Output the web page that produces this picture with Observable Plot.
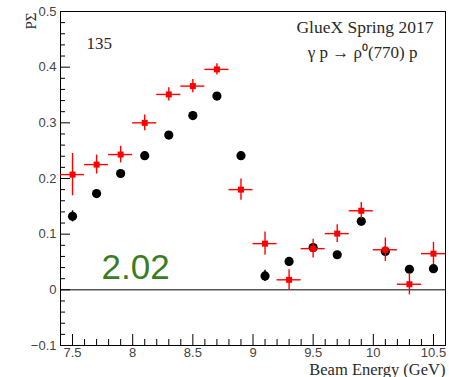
<!DOCTYPE html>
<html>
<head>
<meta charset="utf-8">
<script src="https://cdn.jsdelivr.net/npm/d3@7"></script>
<script src="https://cdn.jsdelivr.net/npm/@observablehq/plot@0.6"></script>
<style>
  body { margin: 0; background: #fff; }
  #chart svg { display: block; }
</style>
</head>
<body>
<div id="chart"></div>
<script>
// Beam energy bin centres (GeV)
const energies = [7.5, 7.7, 7.9, 8.1, 8.3, 8.5, 8.7, 8.9, 9.1, 9.3, 9.5, 9.7, 9.9, 10.1, 10.3, 10.5];
// Black series: values and statistical errors
const blackValues = [0.132, 0.173, 0.209, 0.241, 0.278, 0.313, 0.348, 0.241, 0.025, 0.051, 0.076, 0.063, 0.123, 0.069, 0.037, 0.038];
const blackErrors = [0.010, 0.004, 0.004, 0.004, 0.004, 0.004, 0.004, 0.004, 0.010, 0.006, 0.006, 0.005, 0.006, 0.009, 0.006, 0.006];
// Red series: values and statistical errors
const redValues = [0.207, 0.225, 0.243, 0.300, 0.351, 0.366, 0.396, 0.180, 0.083, 0.018, 0.074, 0.101, 0.142, 0.072, 0.010, 0.065];
const redErrors = [0.038, 0.017, 0.015, 0.014, 0.012, 0.012, 0.010, 0.019, 0.021, 0.018, 0.017, 0.016, 0.015, 0.021, 0.019, 0.020];
// Half width of each energy bin (GeV)
const binHalfWidth = [0.1, 0.1, 0.1, 0.1, 0.1, 0.1, 0.1, 0.1, 0.1, 0.1, 0.1, 0.1, 0.1, 0.1, 0.1, 0.1];

// Axis ticks
const xTickLabels = [7.5, 8, 8.5, 9, 9.5, 10, 10.5];
const xMinorTicks = [7.4, 7.6, 7.7, 7.8, 7.9, 8.1, 8.2, 8.3, 8.4, 8.6, 8.7, 8.8, 8.9, 9.1, 9.2, 9.3, 9.4, 9.6, 9.7, 9.8, 9.9, 10.1, 10.2, 10.3, 10.4, 10.6];
const yTickLabels = [-0.1, 0, 0.1, 0.2, 0.3, 0.4, 0.5];
const yMinorTicks = [-0.08, -0.06, -0.04, -0.02, 0.02, 0.04, 0.06, 0.08, 0.12, 0.14, 0.16, 0.18, 0.22, 0.24, 0.26, 0.28, 0.32, 0.34, 0.36, 0.38, 0.42, 0.44, 0.46, 0.48];

const black = energies.map((e, i) => ({e, v: blackValues[i], err: blackErrors[i]}));
const red = energies.map((e, i) => ({e, v: redValues[i], err: redErrors[i], hw: binHalfWidth[i]}));

const RED = "#ff0000";
const INK = "#2a2a2a";
const serif = "'Liberation Serif', 'Times New Roman', serif";
const sans = "'Liberation Sans', Arial, sans-serif";
const fmt = d3.format("~g");

const chart = Plot.plot({
  width: 449,
  height: 377,
  marginLeft: 60,
  marginRight: 4,
  marginTop: 11,
  marginBottom: 32,
  style: {fontFamily: sans, fontSize: "13px", color: "#000", background: "#fff", overflow: "visible"},
  x: {domain: [7.4, 10.6]},
  y: {domain: [-0.1, 0.5]},
  marks: [
    Plot.frame({stroke: "#000", strokeWidth: 1}),
    Plot.ruleY([0], {stroke: "#000", strokeWidth: 1}),

    // Inward-pointing ticks (major and minor) on both axes
    Plot.axisX({ticks: xTickLabels, tickSize: 11, dy: -11, fill: "none", label: null, stroke: "#000"}),
    Plot.axisX({ticks: xMinorTicks, tickSize: 6, dy: -6, fill: "none", label: null, stroke: "#000"}),
    Plot.axisY({ticks: yTickLabels, tickSize: 10, dx: 10, fill: "none", label: null, stroke: "#000"}),
    Plot.axisY({ticks: yMinorTicks, tickSize: 5, dx: 5, fill: "none", label: null, stroke: "#000"}),

    // Tick labels
    Plot.axisX({ticks: xTickLabels, tickFormat: fmt, tickSize: 0, tickPadding: 2, label: null, fill: "#444"}),
    Plot.axisY({ticks: yTickLabels, tickFormat: fmt, tickSize: 0, tickPadding: 4, label: null, fill: "#444"}),

    // Black series
    Plot.ruleX(black, {x: "e", y1: d => d.v - d.err, y2: d => d.v + d.err, stroke: "#000", strokeWidth: 1.5}),
    Plot.dot(black, {x: "e", y: "v", r: 4.6, fill: "#000", stroke: "none"}),

    // Red series with error crosses
    Plot.ruleX(red, {x: "e", y1: d => d.v - d.err, y2: d => d.v + d.err, stroke: RED, strokeWidth: 1.4}),
    Plot.ruleY(red, {y: "v", x1: d => d.e - d.hw, x2: d => d.e + d.hw, stroke: RED, strokeWidth: 1.4}),
    Plot.dot(red, {x: "e", y: "v", symbol: "square", r: 3.4, fill: RED, stroke: "none"}),

    // Annotations
    Plot.text(["135"], {frameAnchor: "top-left", dx: 26, dy: 37, textAnchor: "start", lineAnchor: "bottom", fontFamily: serif, fontSize: 17, fill: INK}),
    Plot.text(["GlueX Spring 2017"], {frameAnchor: "top-right", dx: -12, dy: 21, textAnchor: "end", lineAnchor: "bottom", fontFamily: serif, fontSize: 17.5, fill: INK}),
    Plot.text(["γ p → ρ⁰(770) p"], {frameAnchor: "top-right", dx: -28, dy: 46, textAnchor: "end", lineAnchor: "bottom", fontFamily: serif, fontSize: 17, fill: INK}),
    Plot.text(["2.02"], {frameAnchor: "bottom-left", dx: 41, dy: -67, textAnchor: "start", lineAnchor: "bottom", fontFamily: sans, fontSize: 35, fill: "#3a7d1f"}),

    // Axis titles
    Plot.text(["Beam Energy (GeV)"], {frameAnchor: "bottom-right", dx: 0, dy: 29, textAnchor: "end", lineAnchor: "bottom", fontFamily: serif, fontSize: 16.5, fill: INK}),
    Plot.text(["PΣ"], {frameAnchor: "top-left", dx: -29, dy: 1, rotate: -90, textAnchor: "end", lineAnchor: "middle", fontFamily: serif, fontSize: 15, fill: INK})
  ]
});

document.getElementById("chart").appendChild(chart);
</script>
</body>
</html>
